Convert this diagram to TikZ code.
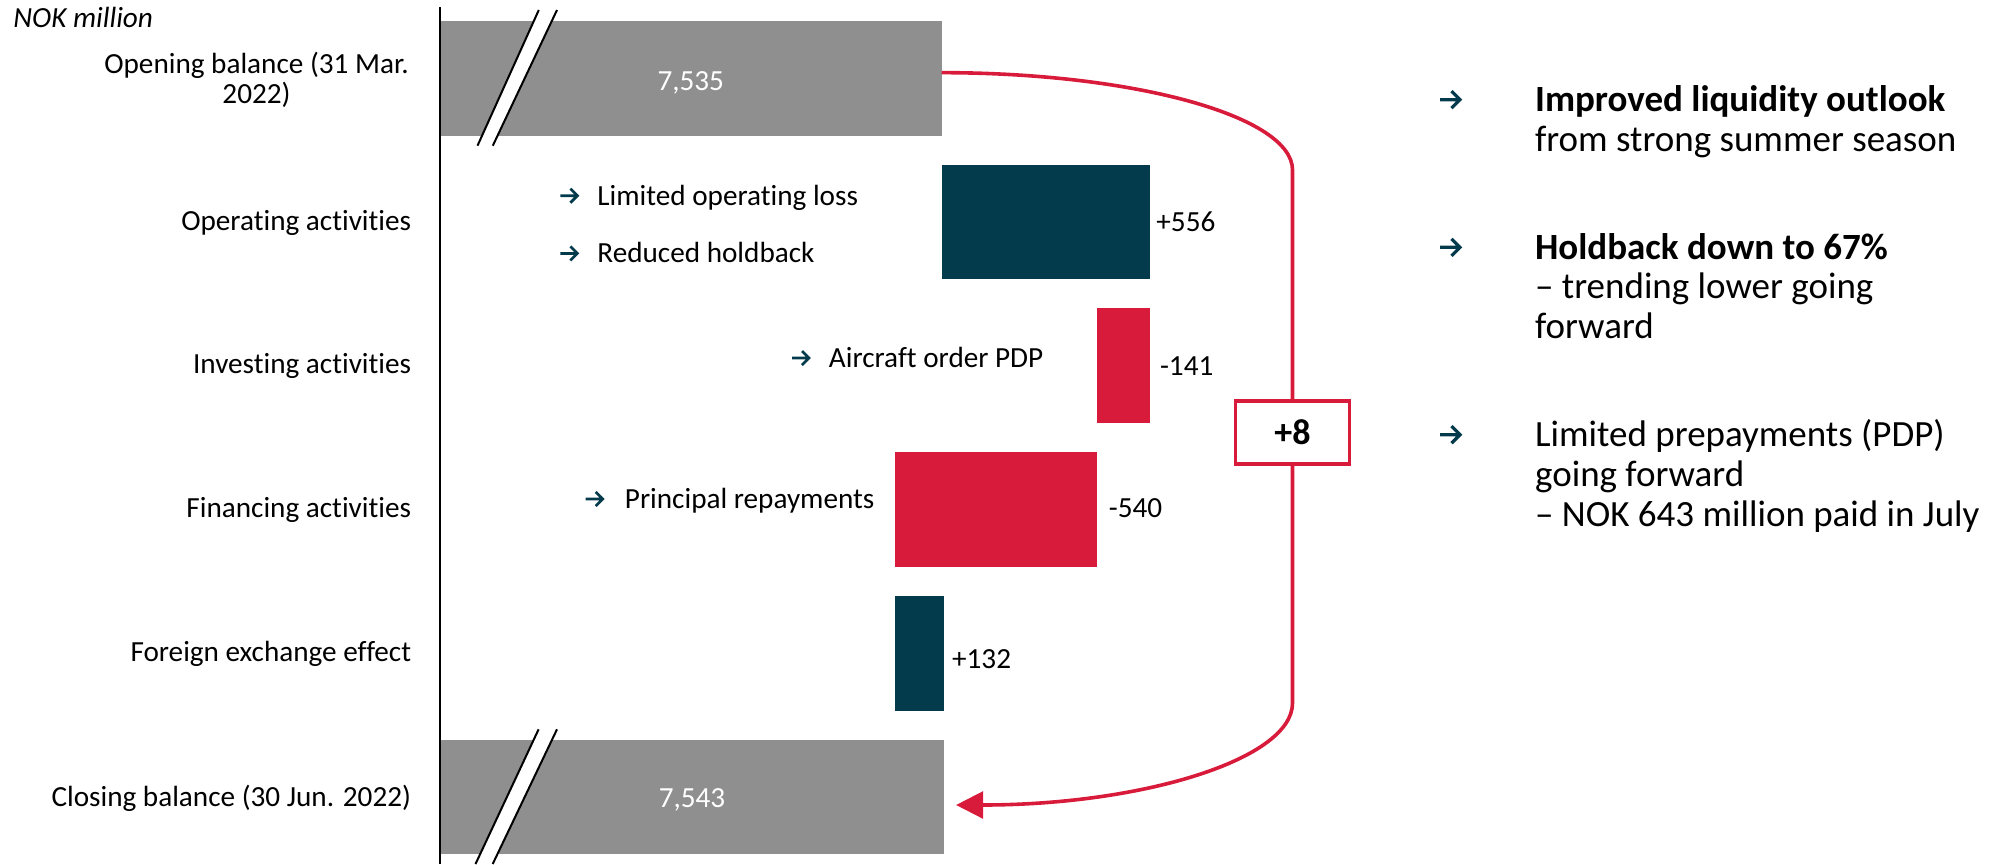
\documentclass[tikz,border=0pt]{standalone}
\usepackage{fontspec}
\setmainfont{Carlito}[Ligatures=NoCommon]
\usetikzlibrary{arrows.meta}
\definecolor{nteal}{HTML}{033B4C}
\definecolor{nred}{HTML}{D81B3B}
\definecolor{ngray}{HTML}{8F8F8F}
\newcommand\smallarr[2]{\draw[bularrow] (#1,#2) -- ++(17,0) ++(-7,-7) -- ++(7,7) -- ++(-7,7);}
\newcommand\bigarr[2]{\draw[bularrow, line width=1.6pt] (#1,#2) -- ++(20,0) ++(-8.5,-8.5) -- ++(8.5,8.5) -- ++(-8.5,8.5);}
\begin{document}
\begin{tikzpicture}[x=0.5pt,y=-0.5pt,
  bar/.style={inner sep=0, outer sep=0, draw=none},
  lab/.style={inner sep=0, font=\fontsize{14.6}{14.75}\selectfont, anchor=base east},
  txt/.style={inner sep=0, font=\fontsize{14.6}{14.75}\selectfont, anchor=base west},
  mid/.style={inner sep=0, font=\fontsize{14.6}{14.75}\selectfont, anchor=base},
  side/.style={inner sep=0, font=\fontsize{18.5}{19.7}\selectfont, anchor=base west},
  bularrow/.style={draw=nteal, line width=1.35pt, line join=miter},
  flowline/.style={draw=nred, line width=1.8pt},
  brk/.style={draw=black, line width=1pt}
]
\useasboundingbox (0,0) rectangle (1995,864);

% bars
\node[bar, fill=ngray, minimum width=250.75pt, minimum height=57.35pt] (open) at (690.75,78.35) {};
\node[bar, fill=nteal, minimum width=104pt, minimum height=57.35pt] (oper) at (1045.5,222.05) {};
\node[bar, fill=nred, minimum width=26.25pt, minimum height=57.35pt] (inv) at (1123.25,365.75) {};
\node[bar, fill=nred, minimum width=101.25pt, minimum height=57.35pt] (fin) at (995.75,509.45) {};
\node[bar, fill=nteal, minimum width=24.75pt, minimum height=57.35pt] (fx) at (919.25,653.15) {};
\node[bar, fill=ngray, minimum width=252pt, minimum height=57.35pt] (close) at (692,796.85) {};

% bar values
\node[mid, text=white] (vopen) at (690.75,90) {7,535};
\node[mid, text=white] (vclose) at (692,807.3) {7,543};
\node[txt] (voper) at (1156,231) {+556};
\node[txt] (vinv) at (1159.6,375.7) {-141};
\node[txt] (vfin) at (1108.4,517.3) {-540};
\node[txt] (vfx) at (951.7,668.3) {+132};

% axis breaks
\fill[white] (477.5,145.7) -- (538.8,10) -- (557,10) -- (492.8,145.7) -- cycle;
\draw[brk] (477.5,145.7) -- (538.8,10) (492.8,145.7) -- (557,10);
\fill[white] (475.5,864) -- (538.6,729.3) -- (557,729.3) -- (492.7,864) -- cycle;
\draw[brk] (475.5,864) -- (538.6,729.3) (492.7,864) -- (557,729.3);

% axis
\coordinate (axtop) at (440,7);
\coordinate (axbot) at (440,864);
\draw[black, line width=0.8pt] (axtop) -- (axbot);

% unit
\node[txt, font=\itshape\fontsize{14.6}{14.75}\selectfont] (unit) at (13,27) {NOK million};

% row labels
\node[mid] (lopen1) at (256.5,73.5) {Opening balance (31 Mar.};
\node[mid] (lopen2) at (256.5,103) {2022)};
\node[lab] (loper) at (411.5,230.7) {Operating activities};
\node[lab] (linv) at (411.5,373.3) {Investing activities};
\node[lab] (lfin) at (411.5,517.7) {Financing activities};
\node[lab] (lfx) at (411.5,661) {Foreign exchange effect};
\node[lab] (lclose) at (411.5,806) {Closing balance (30 Jun. 2022)};

% notes next to bars
\smallarr{560.4}{195.7}
\node[txt] (n1) at (597,205) {Limited operating loss};
\smallarr{560.4}{253.4}
\node[txt] (n2) at (597,262.7) {Reduced holdback};
\smallarr{792}{358}
\node[txt] (n3) at (828.5,367.3) {Aircraft order PDP};
\smallarr{585.7}{499}
\node[txt] (n4) at (624.5,508.3) {Principal repayments};

% change box and flow
\node[draw=nred, line width=1.65pt, fill=white, minimum width=57pt, minimum height=31.5pt, inner sep=0,
      font=\bfseries\fontsize{18}{18}\selectfont] (plus8) at (1292.5,432.5) {+8};
\draw[flowline] ([yshift=2.85pt]open.east) .. controls (1135,72.7) and (1292.5,116.5) .. (1292.5,170) -- (plus8.north);
\draw[flowline, -{Triangle[length=13.5pt,width=13.3pt]}] (plus8.south) -- (1292.5,703)
   .. controls (1292.5,759.3) and (1142,805) .. ([xshift=6pt,yshift=-4.07pt]close.east);

% side notes
\bigarr{1440}{99.7}
\node[side, font=\bfseries\fontsize{18.5}{19.7}\selectfont] (s1a) at (1534.7,111.7) {Improved liquidity outlook};
\node[side] (s1b) at (1534.7,151.2) {from strong summer season};
\bigarr{1440}{247.3}
\node[side, font=\bfseries\fontsize{18.5}{19.7}\selectfont] (s2a) at (1534.7,259.3) {Holdback down to 67\%};
\node[side] (s2b) at (1534.7,298.8) {– trending lower going};
\node[side] (s2c) at (1534.7,338.3) {forward};
\bigarr{1440}{434.7}
\node[side] (s3a) at (1534.7,446.7) {Limited prepayments (PDP)};
\node[side] (s3b) at (1534.7,486.5) {going forward};
\node[side] (s3c) at (1534.7,526) {– NOK 643 million paid in July};
\end{tikzpicture}
\end{document}
